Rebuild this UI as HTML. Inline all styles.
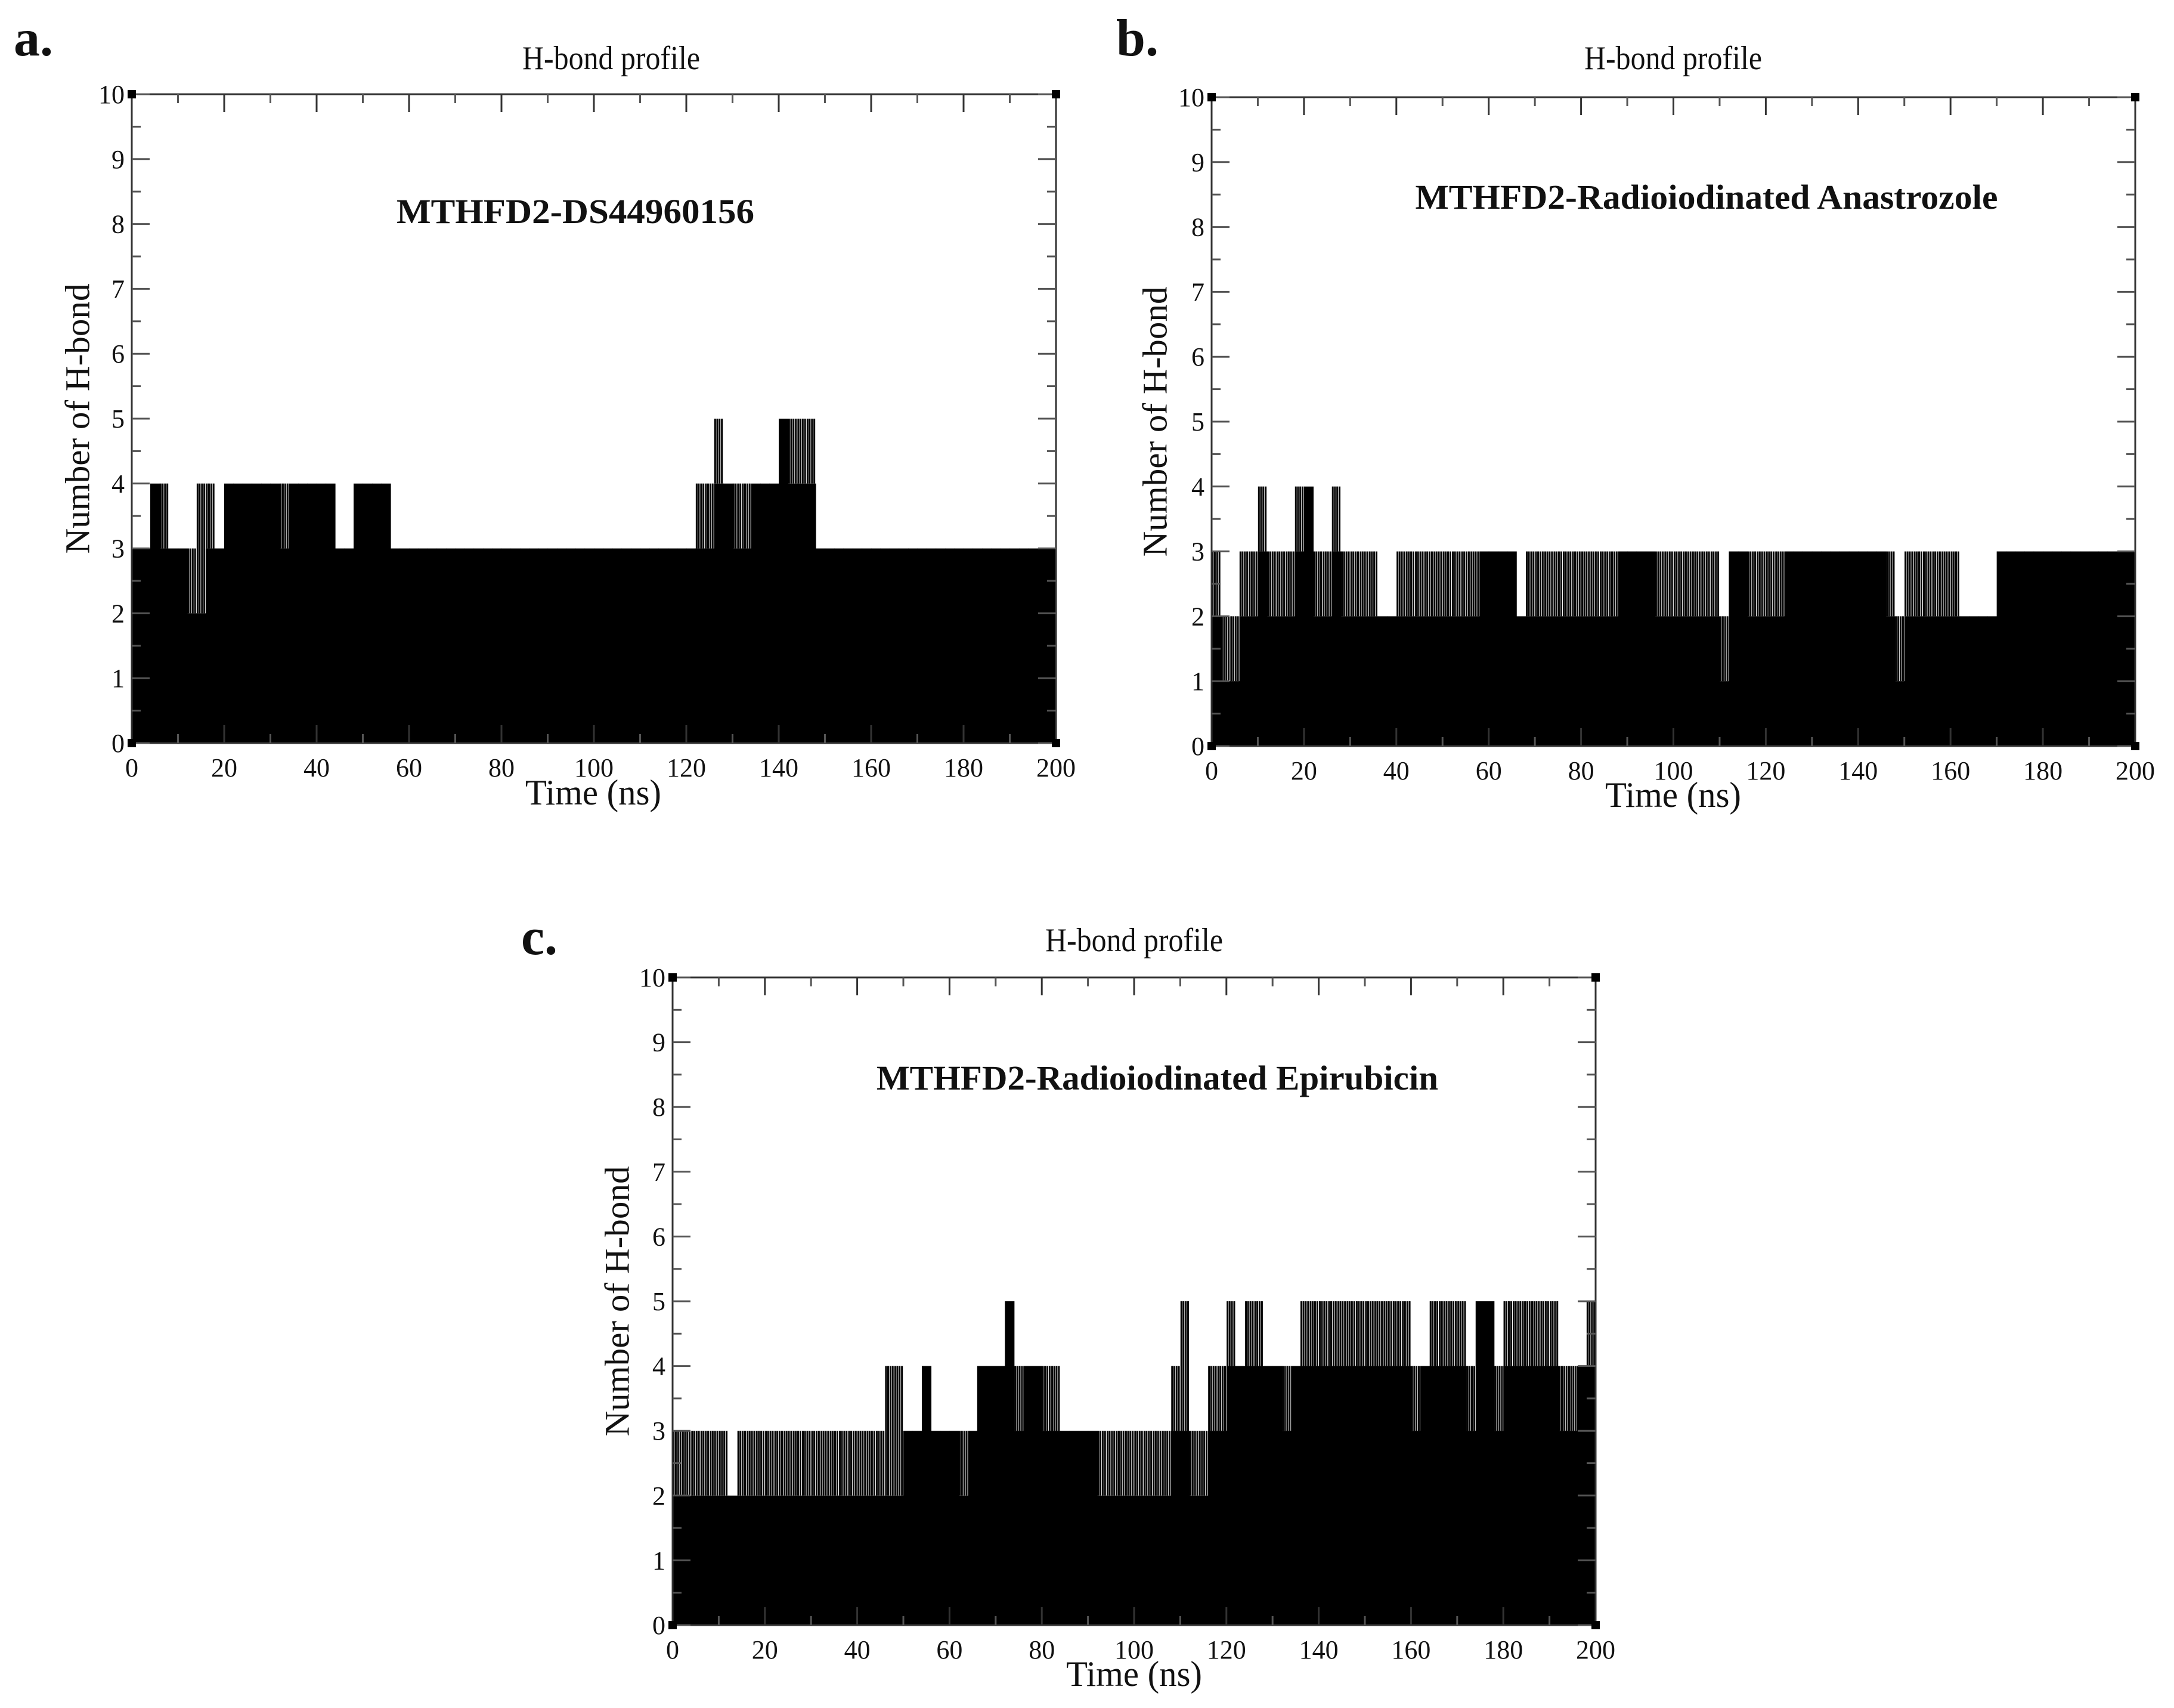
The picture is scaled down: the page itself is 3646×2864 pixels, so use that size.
<!DOCTYPE html>
<html><head><meta charset="utf-8"><style>
html,body{margin:0;padding:0;background:#fff;}
svg{display:block;}
text{font-family:"Liberation Serif",serif;fill:#111;}
</style></head><body>
<svg id="fig" width="3646" height="2864" viewBox="0 0 3646 2864"></svg>
<script>
// Shared axis data
const xTicks = [0,20,40,60,80,100,120,140,160,180,200];
const yTicks = [0,1,2,3,4,5,6,7,8,9,10];
// Bin starts (ns), 2 ns bins
const binStarts = Array.from({length:100},(_,i)=>i*2);

// Panel a: MTHFD2-DS44960156
const aSolid = [3,3,4,3,3,3,2,2,3,3, 4,4,4,4,4,4,3,4,4,4, 4,4,3,3,4,4,4,4,3,3,
 3,3,3,3,3,3,3,3,3,3, 3,3,3,3,3,3,3,3,3,3, 3,3,3,3,3,3,3,3,3,3,
 3,3,3,4,4,3,3,4,4,4, 5,4,4,4,3,3,3,3,3,3, 3,3,3,3,3,3,3,3,3,3, 3,3,3,3,3,3,3,3,3,3];
const aPeak  = [3,3,4,4,3,3,3,4,4,3, 4,4,4,4,4,4,4,4,4,4, 4,4,3,3,4,4,4,4,3,3,
 3,3,3,3,3,3,3,3,3,3, 3,3,3,3,3,3,3,3,3,3, 3,3,3,3,3,3,3,3,3,3,
 3,4,4,5,4,4,4,4,4,4, 5,5,5,5,3,3,3,3,3,3, 3,3,3,3,3,3,3,3,3,3, 3,3,3,3,3,3,3,3,3,3];

// Panel b: MTHFD2-Radioiodinated Anastrozole
const bSolid = [2,1,1,2,2,3,2,2,2,3, 4,2,2,3,2,2,2,2,2,2, 2,2,2,2,2,2,2,2,2,3,
 3,3,3,2,2,2,2,2,2,2, 2,2,2,2,3,3,3,3,2,2, 2,2,2,2,2,1,3,3,2,2,
 2,2,3,3,3,3,3,3,3,3, 3,3,3,2,1,2,2,2,2,2, 2,2,2,2,2,3,3,3,3,3, 3,3,3,3,3,3,3,3,3,3];
const bPeak  = [3,2,2,3,3,4,3,3,3,4, 4,3,3,4,3,3,3,3,2,2, 3,3,3,3,3,3,3,3,3,3,
 3,3,3,2,3,3,3,3,3,3, 3,3,3,3,3,3,3,3,3,3, 3,3,3,3,3,2,3,3,3,3,
 3,3,3,3,3,3,3,3,3,3, 3,3,3,3,2,3,3,3,3,3, 3,2,2,2,2,3,3,3,3,3, 3,3,3,3,3,3,3,3,3,3];

// Panel c: MTHFD2-Radioiodinated Epirubicin
const cSolid = [2,2,2,2,2,2,2,2,2,2, 2,2,2,2,2,2,2,2,2,2, 2,2,2,2,2,3,3,4,3,3,
 3,2,3,4,4,4,5,3,4,4, 3,3,3,3,3,3,2,2,2,2, 2,2,2,2,3,3,2,2,3,3,
 4,4,4,4,4,4,3,4,4,4, 4,4,4,4,4,4,4,4,4,4, 3,4,4,4,4,4,3,5,5,3, 4,4,4,4,4,4,3,3,4,4];
const cPeak  = [3,3,3,3,3,3,2,3,3,3, 3,3,3,3,3,3,3,3,3,3, 3,3,3,4,4,3,3,4,3,3,
 3,3,3,4,4,4,5,4,4,4, 4,4,3,3,3,3,3,3,3,3, 3,3,3,3,4,5,3,3,4,4,
 5,4,5,5,4,4,4,4,5,5, 5,5,5,5,5,5,5,5,5,5, 4,4,5,5,5,5,4,5,5,4, 5,5,5,5,5,5,4,4,4,5];

const panels = [
 {id:'a', x0:221, x1:1771, y0:158, y1:1246, letter:'a.', lx:23, ly:93, title:'MTHFD2-DS44960156', tcx:1025, tby:116, icx:965, iby:374, iw:600, ylx:130, tlx:995, tly:1349, solid:aSolid, peak:aPeak},
 {id:'b', x0:2032, x1:3581, y0:163, y1:1251, letter:'b.', lx:1872, ly:93, title:'MTHFD2-Radioiodinated Anastrozole', tcx:2806, tby:116, icx:2862, iby:350, iw:977, ylx:1937, tlx:2806, tly:1353, solid:bSolid, peak:bPeak},
 {id:'c', x0:1128, x1:2676, y0:1639, y1:2725, letter:'c.', lx:874, ly:1600, title:'MTHFD2-Radioiodinated Epirubicin', tcx:1902, tby:1595, icx:1941, iby:1827, iw:942, ylx:1035, tlx:1902, tly:2827, solid:cSolid, peak:cPeak}
];

const NS='http://www.w3.org/2000/svg';
const svg=document.getElementById('fig');
function mk(tag,attrs,parent,txt){const e=document.createElementNS(NS,tag);for(const k in attrs)e.setAttribute(k,attrs[k]);if(txt!==undefined)e.textContent=txt;(parent||svg).appendChild(e);return e;}

panels.forEach(p=>{
  const g=mk('g',{});
  
  
  const sx=v=>p.x0+(v/200)*(p.x1-p.x0);
  const sy=v=>p.y1-(v/10)*(p.y1-p.y0);
  const bw=sx(2)-sx(0);
  const dg=mk('g',{},g);
  
  
  binStarts.forEach((t,i)=>{
    const s=p.solid[i], pk=p.peak[i];
    const r=mk('rect',{x:sx(t),y:sy(s),width:bw+0.6,height:sy(0)-sy(s),fill:'#000'},dg);
    
    
    if(pk>s){
      [0.12,0.35,0.6,0.85].forEach(f=>{
        const l=mk('line',{x1:sx(t+2*f),x2:sx(t+2*f),y1:sy(s),y2:sy(pk),stroke:'#000','stroke-width':3},dg);
        
        
      });
    }
  });
  const fr=mk('rect',{x:p.x0,y:p.y0,width:p.x1-p.x0,height:p.y1-p.y0,fill:'none',stroke:'#333','stroke-width':3},g);
  
  
  xTicks.forEach(v=>{
    const X=sx(v);
    mk('line',{x1:X,x2:X,y1:p.y1,y2:p.y1-30,stroke:'#333','stroke-width':3},g);
    mk('line',{x1:X,x2:X,y1:p.y0,y2:p.y0+30,stroke:'#333','stroke-width':3},g);
    if(v<200){const m=sx(v+10);
      mk('line',{x1:m,x2:m,y1:p.y1,y2:p.y1-15,stroke:'#555','stroke-width':3},g);
      mk('line',{x1:m,x2:m,y1:p.y0,y2:p.y0+15,stroke:'#555','stroke-width':3},g);}
    const t=mk('text',{x:X,y:p.y1+56,'font-size':44,'text-anchor':'middle'},g,String(v));
    
    
  });
  yTicks.forEach(v=>{
    const Y=sy(v);
    mk('line',{x1:p.x0,x2:p.x0+30,y1:Y,y2:Y,stroke:'#555','stroke-width':3},g);
    mk('line',{x1:p.x1,x2:p.x1-30,y1:Y,y2:Y,stroke:'#555','stroke-width':3},g);
    if(v<10){const m=sy(v+0.5);
      mk('line',{x1:p.x0,x2:p.x0+15,y1:m,y2:m,stroke:'#555','stroke-width':3},g);
      mk('line',{x1:p.x1,x2:p.x1-15,y1:m,y2:m,stroke:'#555','stroke-width':3},g);}
    const t=mk('text',{x:p.x0-12,y:Y+15,'font-size':44,'text-anchor':'end'},g,String(v));
    
    
  });
  [[p.x0,p.y0],[p.x1,p.y0],[p.x0,p.y1],[p.x1,p.y1]].forEach(c=>mk('rect',{x:c[0]-7,y:c[1]-7,width:14,height:14,fill:'#000'},g));
  const L=mk('text',{x:p.lx,y:p.ly,'font-size':88,'font-weight':'bold'},g,p.letter);
  
  
  const T=mk('text',{x:p.tcx,y:p.tby,'font-size':56,'text-anchor':'middle',textLength:298,lengthAdjust:'spacingAndGlyphs'},g,'H-bond profile');
  
  
  const I=mk('text',{x:p.icx,y:p.iby,'font-size':58,'font-weight':'bold','text-anchor':'middle',textLength:p.iw,lengthAdjust:'spacingAndGlyphs'},g,p.title);
  
  
  const XT=mk('text',{x:p.tlx,y:p.tly,'font-size':60,'text-anchor':'middle',textLength:228,lengthAdjust:'spacingAndGlyphs'},g,'Time (ns)');
  
  
  const cy=(p.y0+p.y1)/2;
  const YT=mk('text',{x:p.ylx,y:cy,'font-size':58,'text-anchor':'middle',transform:'rotate(-90 '+p.ylx+' '+cy+')','dominant-baseline':'central',textLength:453,lengthAdjust:'spacingAndGlyphs'},g,'Number of H-bond');
  
  
});
</script>
</body></html>
